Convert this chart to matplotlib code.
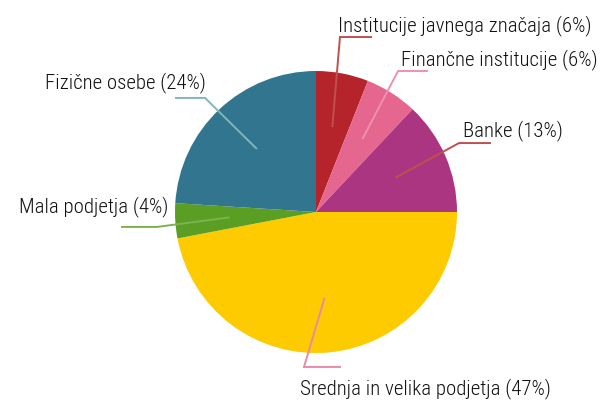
import numpy as np
import matplotlib.pyplot as plt

labels = ["Institucije javnega značaja", "Finančne institucije", "Banke",
          "Srednja in velika podjetja", "Mala podjetja", "Fizične osebe"]
shares = [6, 6, 13, 47, 4, 24]
colors = ["#b5242b", "#e5668f", "#ab3580", "#fecb00", "#5a9e24", "#32758f"]
line_colors = ["#c0504d", "#f090b0", "#c0504d", "#e78ba8", "#7cb34f", "#82b5bb"]

# leader layout: elbow point, end point, text position, alignment
elbows = [(0.170, 1.241), (0.582, 1.0), (1.014, 0.489),
          (-0.085, -1.099), (-1.128, -0.106), (-0.787, 0.809)]
ends = [(0.390, 1.241), (0.787, 1.0), (1.234, 0.489),
        (0.170, -1.099), (-1.376, -0.106), (-0.993, 0.809)]
text_pos = [(0.156, 1.292), (0.600, 1.050), (1.040, 0.547),
            (-0.113, -1.283), (-1.045, 0.008), (-0.780, 0.887)]
aligns = ["left", "left", "left", "left", "right", "right"]

plt.rcParams['font.family'] = ['Roboto Condensed', 'Liberation Sans', 'DejaVu Sans']

fig = plt.figure(figsize=(6.15, 4.02), dpi=100)
ax = fig.add_axes([0, 0, 1, 1])

wedges, _ = ax.pie(shares, colors=colors, startangle=90, counterclock=False,
                   radius=1, center=(0, 0), wedgeprops=dict(linewidth=0))

for w, lc, el, en, tp, ha, lab, s in zip(wedges, line_colors, elbows, ends,
                                          text_pos, aligns, labels, shares):
    ang = np.deg2rad((w.theta1 + w.theta2) / 2)
    x0, y0 = 0.62 * np.cos(ang), 0.62 * np.sin(ang)
    ax.plot([x0, el[0], en[0]], [y0, el[1], en[1]], color=lc, lw=1.4,
            solid_joinstyle='miter')
    ax.text(tp[0], tp[1], f"{lab} ({s}%)", ha=ha, va='baseline',
            fontsize=15, fontweight='light', color="#111111")

ax.set_xlim(-316 / 141, 299 / 141)
ax.set_ylim(-189 / 141, 213 / 141)
ax.set_aspect('auto')
ax.axis('off')

fig.savefig("out.png", dpi=100)
